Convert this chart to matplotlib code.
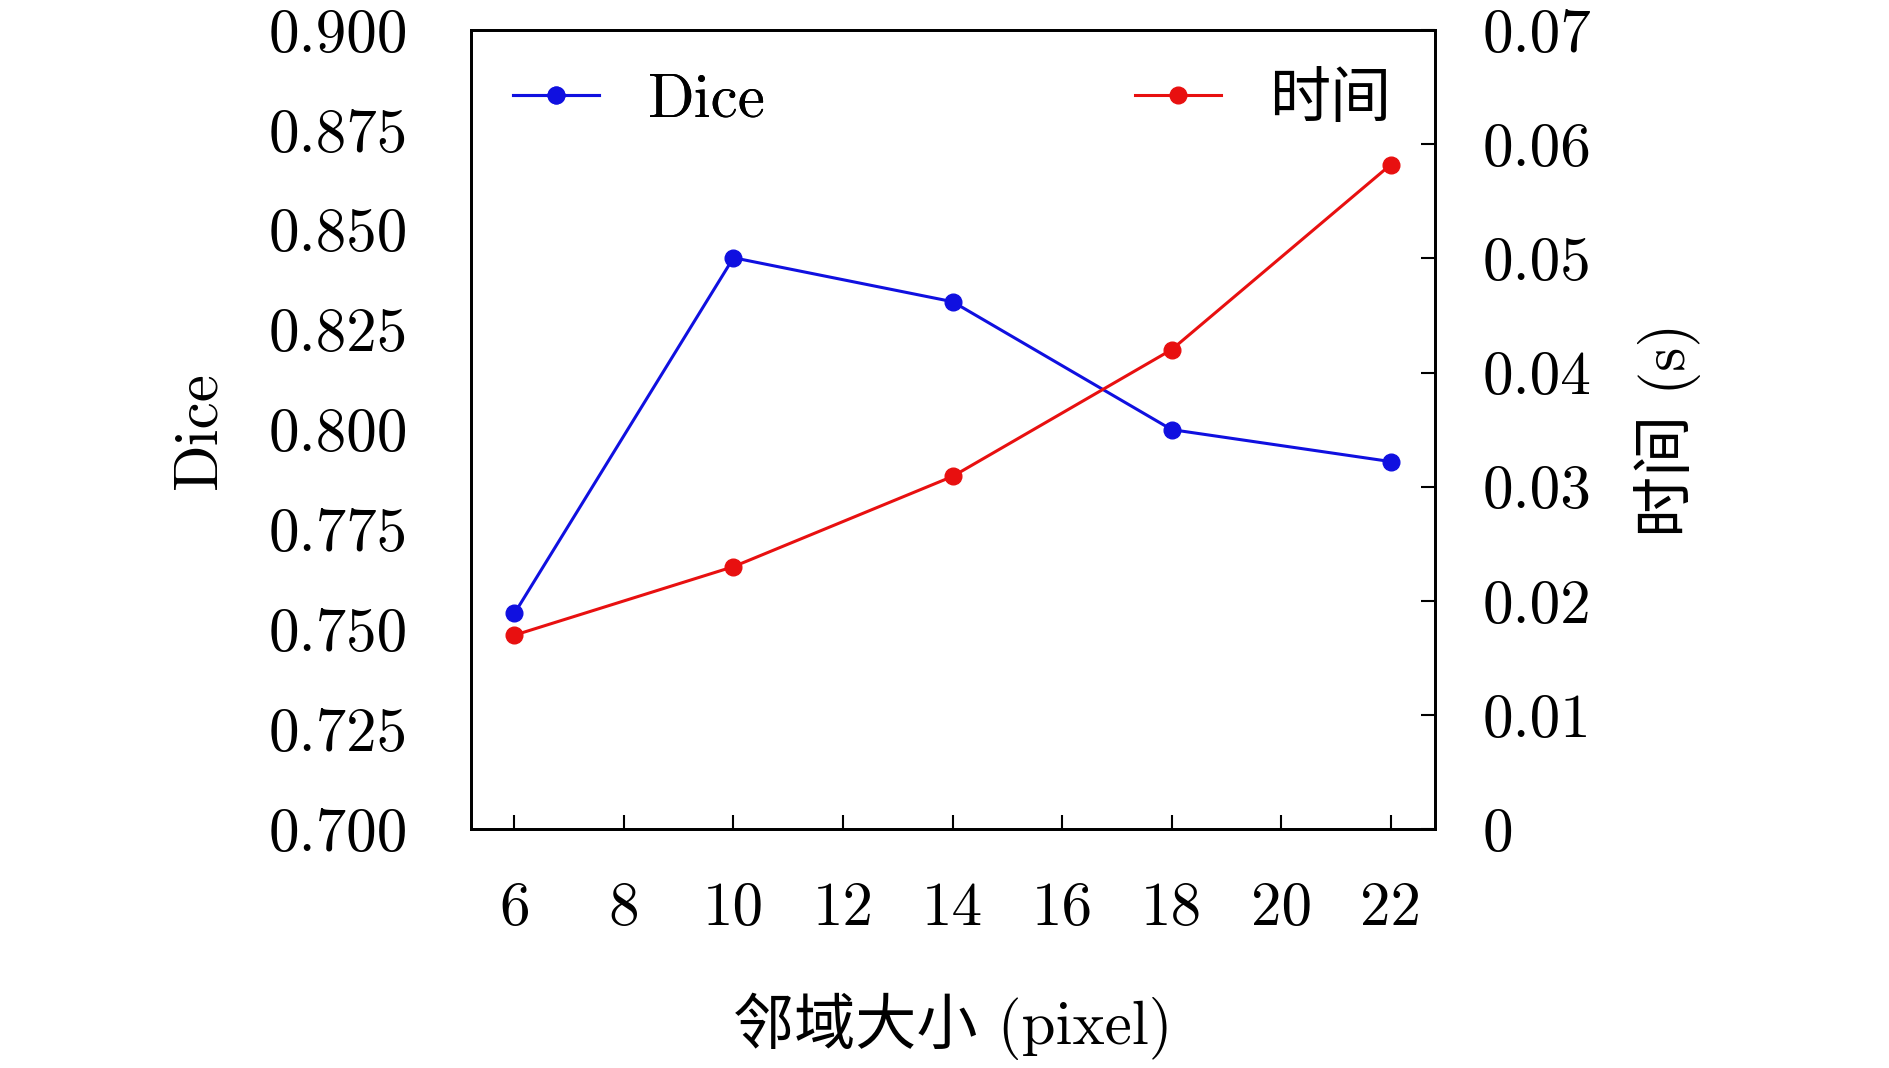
import matplotlib.pyplot as plt

plt.rcParams['font.family'] = ['cmr10', 'Noto Sans CJK SC']
plt.rcParams['mathtext.fontset'] = 'cm'
plt.rcParams['axes.unicode_minus'] = False

# ====== DATA ======
neigh = [6, 10, 14, 18, 22]
dice = [0.754, 0.843, 0.832, 0.800, 0.792]
tempo = [0.0170, 0.0230, 0.0309, 0.0420, 0.0582]
xticks = [6, 8, 10, 12, 14, 16, 18, 20, 22]
yticks_l = [0.700, 0.725, 0.750, 0.775, 0.800, 0.825, 0.850, 0.875, 0.900]
yticks_r = [0, 0.01, 0.02, 0.03, 0.04, 0.05, 0.06, 0.07]

fs = 44
fig = plt.figure(figsize=(18.9, 10.68), dpi=100)
ax = fig.add_axes([0.249, 0.2235, 0.51, 0.7485])
ax2 = ax.twinx()

l1, = ax.plot(neigh, dice, color="#1010e0", lw=2.2, marker="o", ms=12, label="Dice")
l2, = ax2.plot(neigh, tempo, color="#e81010", lw=2.2, marker="o", ms=12, label="时间")

ax.set_xlim(5.2, 22.8)
ax.set_ylim(0.7, 0.9)
ax2.set_ylim(0, 0.07)

ax.set_xticks(xticks)
ax.set_xticklabels([str(v) for v in xticks], fontsize=fs)
ax.set_yticks(yticks_l)
ax.set_yticklabels(["%.3f" % v for v in yticks_l], fontsize=fs)
ax2.set_yticks(yticks_r)
ax2.set_yticklabels(["0"] + ["%.2f" % v for v in yticks_r[1:]], fontsize=fs)

ax.tick_params(axis="x", direction="in", length=10, width=1.5, pad=38)
ax.tick_params(axis="y", length=0, pad=45)
ax2.tick_params(axis="y", direction="in", length=10, width=1.5, pad=35)
for a in (ax, ax2):
    for s in a.spines.values():
        s.set_linewidth(2)

ax.set_xlabel("邻域大小 (pixel)", fontsize=fs, labelpad=40)
ax.set_ylabel("Dice", fontsize=fs, labelpad=30)
ax2.set_ylabel("时间 (s)", fontsize=fs, labelpad=30)

leg1 = ax.legend(handles=[l1], loc="upper left", frameon=False, fontsize=fs,
                 handlelength=1.4, borderaxespad=0.3)
ax.add_artist(leg1)
ax2.legend(handles=[l2], loc="upper right", frameon=False, fontsize=fs,
           handlelength=1.4, borderaxespad=0.3)

plt.savefig("out.png", dpi=100)
